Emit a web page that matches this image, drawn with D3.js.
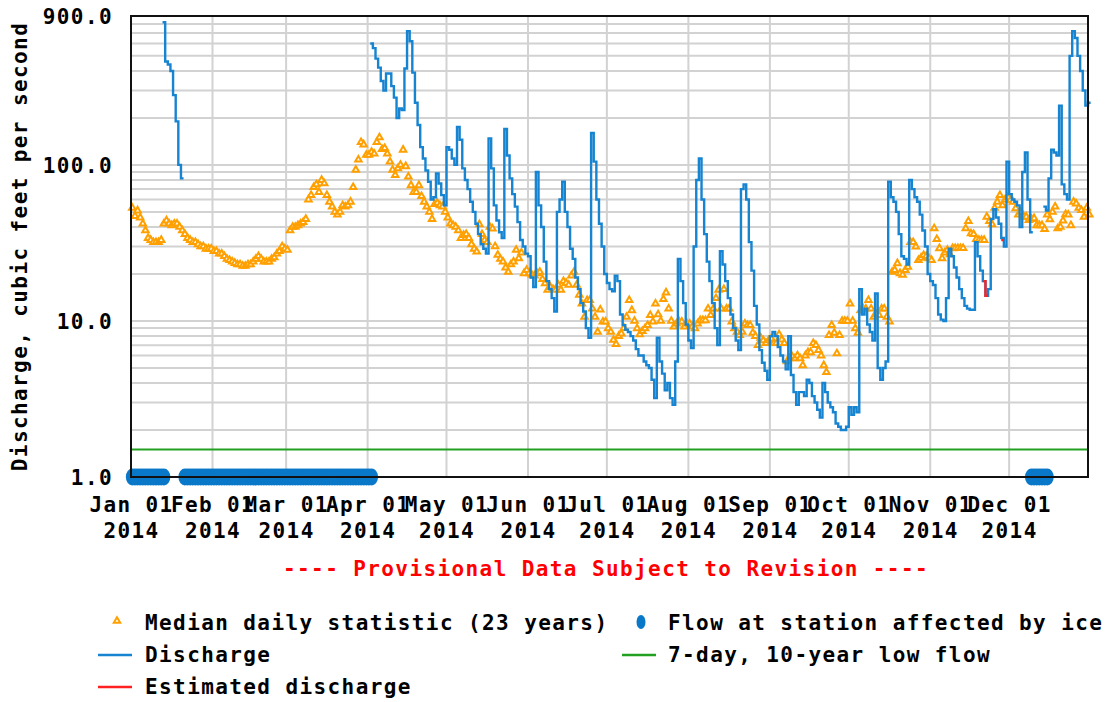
<!DOCTYPE html>
<html>
<head>
<meta charset="utf-8">
<script src="https://cdn.jsdelivr.net/npm/d3@7"></script>
<style>
  body { margin: 0; background: #fff; }
  svg text { font-family: "DejaVu Sans Mono", monospace; font-weight: bold; font-size: 21px; letter-spacing: 1.4px; fill: #000; }
</style>
</head>
<body>
<script>
// ---- data ----
var yearStart = "2014-01-01", yearEnd = "2014-12-31";
var yTicks = [1, 10, 100, 900];
var lowFlow7Q10 = 1.5;

var monthLabels = ["Jan 01", "Feb 01", "Mar 01", "Apr 01", "May 01", "Jun 01",
                   "Jul 01", "Aug 01", "Sep 01", "Oct 01", "Nov 01", "Dec 01"];
var yearLabels = ["2014", "2014", "2014", "2014", "2014", "2014",
                  "2014", "2014", "2014", "2014", "2014", "2014"];

// median daily statistic, one value per day
var medianJan = [53,47,51,46,42,38,34,33,32,32, 32,33,42,44,42,41,42,42,40,38, 36,34,33,32,32,31,30,30,29,29, 29];
var medianFeb = [28,28,27,27,26,25,24.5,24,23.5,23, 23,22.5,22.5,23,23,24,25,26,25,24, 24,24,25,25.5,27,28,30,29];
var medianMar = [28.5,38,40,40,41,42,43,45,60,64, 72,75,67,80,76,64,58,54,50,48, 50,55,54,55,58,72,93,108,140,135, 116];
var medianApr = [116,121,118,140,150,126,128,118,105,93, 86,95,100,125,98,84,74,67,67,74, 63,58,54,50,45,56,57,55,54,50];
var medianMay = [46,42,41,40,38,34,35.5,36,34,31, 29,27.8,41.6,36,33,32,40,39,30,26.5, 25,24,22,20.6,23,24,28.5,25.2,27.4,20.2, 21.2];
var medianJun = [20.2,19.7,19.5,20.2,20.6,18.5,17.4,15.8,16.5,16, 15.8,17,15.8,18,17.5,17,19.5,20.6,17,14.7, 12.9,10.6,13.6,13.6,12,10.6,8.5,11.8,9.9,9.9];
var medianJul = [8.95,8.5,7.55,7.1,8,8.3,9,10.6,13.6,11.7, 10,8.95,8.2,8.6,8.95,9.4,10.9,9.9,12.9,11, 10,13.8,15.2,12,10,9.2,9.6,9.9,9.9,9.2, 9.6];
var medianAug = [9.6,9.2,8.95,9.6,10.1,10.1,10.1,12,10.9,12, 14,15.8,12,16,12,12,9.9,8.95,8.5,8.1, 8.5,9.6,9.4,9.4,8.4,8,7,7.8,7.5,7.2, 7.5];
var medianSep = [7.7,7.2,7.2,8.2,7.6,7.2,5.5,5.75,5.9,5.75, 6,5.75,5.2,6,6.3,6.3,7.2,7,6.5,6, 5.2,4.7,8.1,9.4,8.4,6.2,8.1,10,10,10];
var medianOct = [12.9,10,8.95,8.4,11.7,12,12,13.6,12,10.6, 11,10.9,12,12,10.6,9.9,20.6,21.2,23.4,20.2, 19.7,21.2,22.2,32,32,29.9,24.5,25.4,26.4,26, 25.2];
var medianNov = [24.5,39.2,33.4,29.2,25.2,27.4,28.5,26.7,29.2,29.3, 29.3,29.3,29.3,39.2,43.6,36.4,36,33.4,33,33, 33,46.5,43.6,41.6,53,58,64,55,60,62];
var medianDec = [59.5,58,52.7,48,50,46.5,46.5,44.3,45,45.5, 41,41,41,38.8,48,44.8,50,54,39.2,40, 44,48.3,48,41,58,56.5,53,51.3,46.5,53, 48];

// discharge, daily values, in continuous runs
var dischargeStarts = ["2014-01-13", "2014-04-02", "2014-12-14"];
var dischargeJan = [820,460,440,400,280,190,100,82];
var dischargeApr = [600,560,480,420,345,300,385,385,320,270, 200,230,225,415,720,620,390,250,180,130, 110,92,78,60,62,88,76,64,55];
var dischargeMay = [130,125,110,100,175,145,95,80,70,58, 50,42,36,31,29,27,148,95,55,44, 37,34,170,115,82,65,54,43,33,30, 27];
var dischargeJun = [26,19,16.5,90,55,40,24,18,16,14, 11.5,50,60,78,50,40,29,25,19,16, 13,11.5,9,7.8,160,105,60,42,30,20];
var dischargeJul = [17.5,16,15.5,19.5,18,11,9.4,8.8,8.5,8, 7.5,6.6,6,6,5.5,5.2,5,4.2,3.2,7.8, 5.5,4.6,3.6,4,3.2,2.9,5.5,25,18,13, 9.5];
var dischargeAug = [7.5,6.7,30,80,110,60,36,24,18,13, 9,7,28,23,18,14,11,9,7.5,6.5, 70,75,60,32,21,12.5,9.5,6.5,5.4,4.8, 4.2];
var dischargeSep = [8,8.5,8,6.8,6,5.5,4.9,8,4.5,3.5, 2.9,3.5,3.5,3.3,4.2,4,3.3,3,2.7,2.4, 4,3.5,3,2.8,2.6,2.2,2.1,2.0,2.0,2.1];
var dischargeOct = [2.8,2.5,2.8,2.6,16,11,12,9.5,8.5,7.5, 15,5,4.2,5,5.5,78,62,58,50,36, 26,25,23,80,70,62,58,48,38,30, 20];
var dischargeNov = [18,17,14,11,10.2,10,14,29,26,22, 19,16,14,12.5,12,11.8,11.8,32,26,21, 18,14.5,16,45,52,46,42,34,30,105];
var dischargeDecA = [65,60,58,55,40,90,120,60,37];
var dischargeDecB = [54,51,82,125,120,115,240,75,65,60, 500,720,650,500,400,300,240,250];

// estimated discharge (red)
var estimatedStarts = ["2014-11-21", "2014-11-28"];
var estimatedValues = [[18, 14.5], [33]];

// flow affected by ice (start, end inclusive)
var iceStarts = ["2014-01-01", "2014-01-21", "2014-12-09"];
var iceEnds = ["2014-01-13", "2014-04-02", "2014-12-15"];

// ---- chart ----
var W = 1107, H = 702;
var plotL = 131, plotR = 1088, plotT = 16, plotB = 477;
var parseDate = d3.timeParse("%Y-%m-%d");

var x = d3.scaleTime().domain([parseDate(yearStart), parseDate(yearEnd)]).range([plotL, plotR]);
var y = d3.scaleLog().domain([1, 900]).range([plotB, plotT]);

var svg = d3.select("body").append("svg").attr("width", W).attr("height", H);

// grid
svg.append("g").selectAll("line")
    .data(y.ticks())
    .enter().append("line")
    .attr("x1", plotL).attr("x2", plotR)
    .attr("y1", function(d) { return y(d); }).attr("y2", function(d) { return y(d); })
    .attr("stroke", "#d2d2d2").attr("stroke-width", 2);

var monthStarts = d3.timeMonth.range(parseDate("2014-01-01"), parseDate("2014-12-02"));
svg.append("g").selectAll("line")
    .data(monthStarts)
    .enter().append("line")
    .attr("x1", function(d) { return x(d); }).attr("x2", function(d) { return x(d); })
    .attr("y1", plotT).attr("y2", plotB)
    .attr("stroke", "#d2d2d2").attr("stroke-width", 2);

// 7Q10 low flow
svg.append("line")
    .attr("x1", plotL).attr("x2", plotR)
    .attr("y1", y(lowFlow7Q10)).attr("y2", y(lowFlow7Q10))
    .attr("stroke", "#22a022").attr("stroke-width", 2);

// ice markers
var iceDays = [];
iceStarts.forEach(function(s, i) {
    d3.timeDay.range(parseDate(s), d3.timeDay.offset(parseDate(iceEnds[i]), 1)).forEach(function(d) {
        iceDays.push(d);
    });
});
svg.append("g").selectAll("ellipse")
    .data(iceDays)
    .enter().append("ellipse")
    .attr("cx", function(d) { return x(d3.timeHour.offset(d, 12)); })
    .attr("cy", y(1))
    .attr("rx", 6.5).attr("ry", 8.5)
    .attr("fill", "#0a78c8");

// median triangles
var medians = [].concat(medianJan, medianFeb, medianMar, medianApr, medianMay, medianJun,
                        medianJul, medianAug, medianSep, medianOct, medianNov, medianDec);
var tri = d3.symbol().type(d3.symbolTriangle).size(18);
svg.append("g").selectAll("path")
    .data(medians)
    .enter().append("path")
    .attr("d", tri)
    .attr("transform", function(d, i) {
        var day = d3.timeHour.offset(d3.timeDay.offset(parseDate(yearStart), i), 12);
        return "translate(" + x(day) + "," + y(d) + ")";
    })
    .attr("fill", "#fff").attr("stroke", "#ffa000").attr("stroke-width", 2);

// discharge lines
var stepLine = d3.line()
    .x(function(d) { return x(d[0]); })
    .y(function(d) { return y(d[1]); })
    .curve(d3.curveStepAfter);

function toPoints(start, values) {
    var pts = values.map(function(v, i) { return [d3.timeDay.offset(parseDate(start), i), v]; });
    pts.push([d3.timeDay.offset(parseDate(start), values.length), values[values.length - 1]]);
    return pts;
}

var dischargeRuns = [
    dischargeJan,
    [].concat(dischargeApr, dischargeMay, dischargeJun, dischargeJul, dischargeAug,
              dischargeSep, dischargeOct, dischargeNov, dischargeDecA),
    dischargeDecB
];
dischargeRuns.forEach(function(vals, i) {
    svg.append("path")
        .attr("d", stepLine(toPoints(dischargeStarts[i], vals)))
        .attr("fill", "none").attr("stroke", "#1684d0").attr("stroke-width", 2.4);
});

estimatedValues.forEach(function(vals, i) {
    svg.append("path")
        .attr("d", stepLine(toPoints(estimatedStarts[i], vals)))
        .attr("fill", "none").attr("stroke", "#ff2020").attr("stroke-width", 2.4);
});

// frame
svg.append("rect")
    .attr("x", plotL).attr("y", plotT)
    .attr("width", plotR - plotL).attr("height", plotB - plotT)
    .attr("fill", "none").attr("stroke", "#111").attr("stroke-width", 2);

// axes
var yAxis = svg.append("g")
    .attr("transform", "translate(" + plotL + ",1)")
    .call(d3.axisLeft(y).tickValues(yTicks).tickFormat(d3.format(".1f")).tickSize(0).tickPadding(18));
yAxis.select(".domain").remove();

var xAxis = svg.append("g")
    .attr("transform", "translate(0," + plotB + ")")
    .call(d3.axisBottom(x).tickValues(monthStarts).tickSize(0)
          .tickFormat(function(d, i) { return monthLabels[i]; }));
xAxis.select(".domain").remove();
xAxis.selectAll(".tick text").each(function(d, i) {
    var t = d3.select(this).attr("y", 35).attr("dy", null).text(null);
    t.append("tspan").attr("x", 0).text(monthLabels[i]);
    t.append("tspan").attr("x", 0).attr("dy", 26).text(yearLabels[i]);
});

svg.append("text")
    .attr("transform", "translate(27," + ((plotT + plotB) / 2) + ") rotate(-90)")
    .attr("text-anchor", "middle")
    .text("Discharge, cubic feet per second");

svg.append("text")
    .attr("x", 606).attr("y", 576)
    .attr("text-anchor", "middle")
    .style("fill", "#f00")
    .text("---- Provisional Data Subject to Revision ----");

// legend
var lg = svg.append("g");
lg.append("path").attr("d", tri).attr("transform", "translate(117,621)")
    .attr("fill", "#fff").attr("stroke", "#ffa000").attr("stroke-width", 2);
lg.append("text").attr("x", 145).attr("y", 630).text("Median daily statistic (23 years)");
lg.append("ellipse").attr("cx", 641).attr("cy", 622).attr("rx", 4.5).attr("ry", 7).attr("fill", "#0a78c8");
lg.append("text").attr("x", 668).attr("y", 630).text("Flow at station affected by ice");
lg.append("line").attr("x1", 98).attr("x2", 132).attr("y1", 655).attr("y2", 655)
    .attr("stroke", "#1684d0").attr("stroke-width", 2.4);
lg.append("text").attr("x", 145).attr("y", 662).text("Discharge");
lg.append("line").attr("x1", 622).attr("x2", 656).attr("y1", 655).attr("y2", 655)
    .attr("stroke", "#22a022").attr("stroke-width", 2.4);
lg.append("text").attr("x", 668).attr("y", 662).text("7-day, 10-year low flow");
lg.append("line").attr("x1", 98).attr("x2", 132).attr("y1", 687).attr("y2", 687)
    .attr("stroke", "#ff2020").attr("stroke-width", 2.4);
lg.append("text").attr("x", 145).attr("y", 694).text("Estimated discharge");
</script>
</body>
</html>
